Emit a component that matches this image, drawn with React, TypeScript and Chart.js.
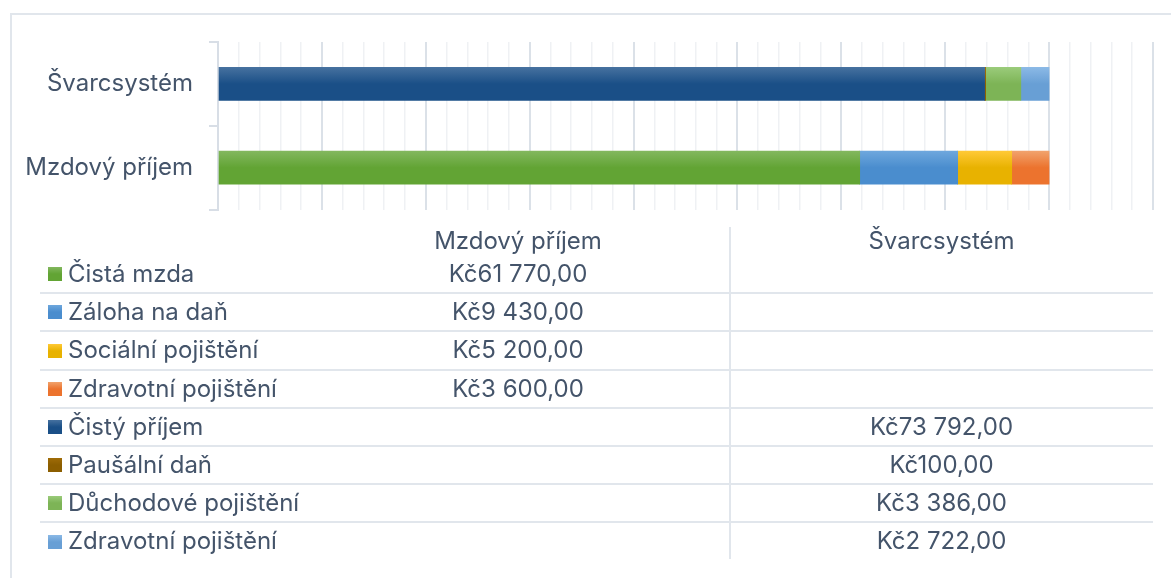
import React, { useEffect, useRef } from 'react';
import { Chart, registerables } from 'chart.js';

Chart.register(...registerables);

// ---- Data ----
const categories = ['Mzdový příjem', 'Švarcsystém'];
const seriesNames = [
  'Čistá mzda',
  'Záloha na daň',
  'Sociální pojištění',
  'Zdravotní pojištění',
  'Čistý příjem',
  'Paušální daň',
  'Důchodové pojištění',
  'Zdravotní pojištění',
];
const cistaMzda: (number | null)[] = [61770, null];
const zalohaNaDan: (number | null)[] = [9430, null];
const socialniPojisteni: (number | null)[] = [5200, null];
const zdravotniPojisteniMzda: (number | null)[] = [3600, null];
const cistyPrijem: (number | null)[] = [null, 73792];
const pausalniDan: (number | null)[] = [null, 100];
const duchodovePojisteni: (number | null)[] = [null, 3386];
const zdravotniPojisteniSvarc: (number | null)[] = [null, 2722];
const seriesValues = [
  cistaMzda,
  zalohaNaDan,
  socialniPojisteni,
  zdravotniPojisteniMzda,
  cistyPrijem,
  pausalniDan,
  duchodovePojisteni,
  zdravotniPojisteniSvarc,
];
const colorsTop = ['#82b75e', '#6ea7dd', '#ffc936', '#f1a26c', '#46719f', '#a06c08', '#9acb7a', '#8bb9e6'];
const colorsBottom = ['#62a434', '#4a8dce', '#e8b200', '#ec732e', '#1a4f87', '#8c5e00', '#7db456', '#689fd5'];
const axisMin = 0;
const axisMax = 90000;
const minorStep = 2000;
const majorStep = 10000;

const FONT = 'Inter, "Noto Sans", sans-serif';
const TEXT = '#44546a';
const FONT_SIZE = 24;

function formatKc(v: number): string {
  const s = Math.round(v).toString().replace(/\B(?=(\d{3})+(?!\d))/g, ' ');
  return 'Kč' + s + ',00';
}

const CH_W = 1171;
const CH_H = 240;
const HEADER_TOP = 227;
const HEADER_H = 28;
const ROW_H = 38.2;
const TABLE_LEFT = 40;
const TABLE_RIGHT = 1153;
const COL_DIV = 730;
const COL1_LEFT = 306;

export default function App() {
  const ref = useRef<HTMLCanvasElement | null>(null);

  useEffect(() => {
    const canvas = ref.current;
    if (!canvas) return;
    const chart = new Chart(canvas, {
      type: 'bar',
      data: {
        labels: categories,
        datasets: seriesValues.map((vals, i) => ({
          label: seriesNames[i],
          data: vals,
          barThickness: 33,
          borderWidth: 0,
          backgroundColor: (ctx: any) => {
            const c = ctx.chart;
            const ys = c.scales && c.scales.y;
            if (!ys || ctx.dataIndex === undefined) return colorsBottom[i];
            const mid = ys.getPixelForValue(ctx.dataIndex);
            if (!isFinite(mid)) return colorsBottom[i];
            const g = c.ctx.createLinearGradient(0, mid - 16.5, 0, mid + 16.5);
            g.addColorStop(0, colorsTop[i]);
            g.addColorStop(0.5, colorsBottom[i]);
            g.addColorStop(1, colorsBottom[i]);
            return g;
          },
        })),
      },
      options: {
        indexAxis: 'y',
        animation: false,
        responsive: false,
        devicePixelRatio: 1,
        layout: { padding: { top: 42, right: 18, bottom: 10, left: 0 } },
        plugins: { legend: { display: false }, tooltip: { enabled: false } },
        scales: {
          x: {
            type: 'linear',
            stacked: true,
            min: axisMin,
            max: axisMax,
            ticks: { display: false, stepSize: minorStep },
            border: { display: false },
            grid: {
              drawTicks: false,
              color: (ctx: any) => (ctx.tick && ctx.tick.value % majorStep === 0 ? '#dbe1e8' : '#eff1f4'),
              lineWidth: (ctx: any) => (ctx.tick && ctx.tick.value % majorStep === 0 ? 2 : 1.5),
            },
            afterFit: (scale: any) => {
              scale.height = 0;
            },
          },
          y: {
            type: 'category',
            stacked: true,
            reverse: true,
            border: { display: true, color: '#d8dee6', width: 2 },
            grid: {
              offset: true,
              drawOnChartArea: false,
              drawTicks: true,
              tickLength: 9,
              color: '#d8dee6',
              lineWidth: 2,
            },
            ticks: {
              color: TEXT,
              padding: 16,
              font: { family: FONT, size: FONT_SIZE },
            },
            afterFit: (scale: any) => {
              scale.width = 218;
            },
          },
        },
      },
    });
    return () => chart.destroy();
  }, []);

  const rowTop = (i: number) => HEADER_TOP + HEADER_H + i * ROW_H;
  const textStyle: React.CSSProperties = {
    position: 'absolute',
    fontFamily: FONT,
    fontSize: FONT_SIZE,
    color: TEXT,
    whiteSpace: 'nowrap',
    textAlign: 'center',
  };

  return (
    <div
      style={{
        position: 'fixed',
        left: 0,
        top: 0,
        width: CH_W,
        height: 578,
        background: '#ffffff',
        overflow: 'hidden',
      }}
    >
      <div
        style={{
          position: 'absolute',
          left: 10,
          top: 13,
          width: 1200,
          height: 600,
          borderLeft: '2px solid #e1e6ec',
          borderTop: '2px solid #e1e6ec',
        }}
      />
      <canvas
        ref={ref}
        width={CH_W}
        height={CH_H}
        style={{ position: 'absolute', left: 0, top: 0, width: CH_W, height: CH_H }}
      />
      {/* column divider */}
      <div
        style={{
          position: 'absolute',
          left: COL_DIV - 1,
          top: HEADER_TOP,
          width: 2,
          height: rowTop(seriesNames.length) - HEADER_TOP - 2,
          background: '#e1e6ec',
        }}
      />
      {/* row separators */}
      {seriesNames.slice(0, -1).map((_, i) => (
        <div
          key={'sep' + i}
          style={{
            position: 'absolute',
            left: TABLE_LEFT,
            top: rowTop(i + 1) - 1,
            width: TABLE_RIGHT - TABLE_LEFT,
            height: 2,
            background: '#e1e6ec',
          }}
        />
      ))}
      {/* header */}
      {categories.map((c, ci) => (
        <div
          key={'h' + ci}
          style={{
            ...textStyle,
            left: ci === 0 ? COL1_LEFT : COL_DIV,
            width: ci === 0 ? COL_DIV - COL1_LEFT : TABLE_RIGHT - COL_DIV,
            top: HEADER_TOP,
            height: HEADER_H,
            lineHeight: HEADER_H + 'px',
          }}
        >
          {c}
        </div>
      ))}
      {/* rows */}
      {seriesNames.map((name, i) => (
        <React.Fragment key={'r' + i}>
          <div
            style={{
              position: 'absolute',
              left: 48,
              top: rowTop(i) + ROW_H / 2 - 7,
              width: 14,
              height: 14,
              background: `linear-gradient(${colorsTop[i]}, ${colorsBottom[i]} 50%)`,
            }}
          />
          <div
            style={{
              ...textStyle,
              textAlign: 'left',
              left: 68,
              top: rowTop(i),
              height: ROW_H,
              lineHeight: ROW_H + 'px',
            }}
          >
            {name}
          </div>
          {seriesValues[i].map((v, ci) =>
            v === null ? null : (
              <div
                key={'v' + ci}
                style={{
                  ...textStyle,
                  left: ci === 0 ? COL1_LEFT : COL_DIV,
                  width: ci === 0 ? COL_DIV - COL1_LEFT : TABLE_RIGHT - COL_DIV,
                  top: rowTop(i),
                  height: ROW_H,
                  lineHeight: ROW_H + 'px',
                }}
              >
                {formatKc(v)}
              </div>
            )
          )}
        </React.Fragment>
      ))}
    </div>
  );
}
